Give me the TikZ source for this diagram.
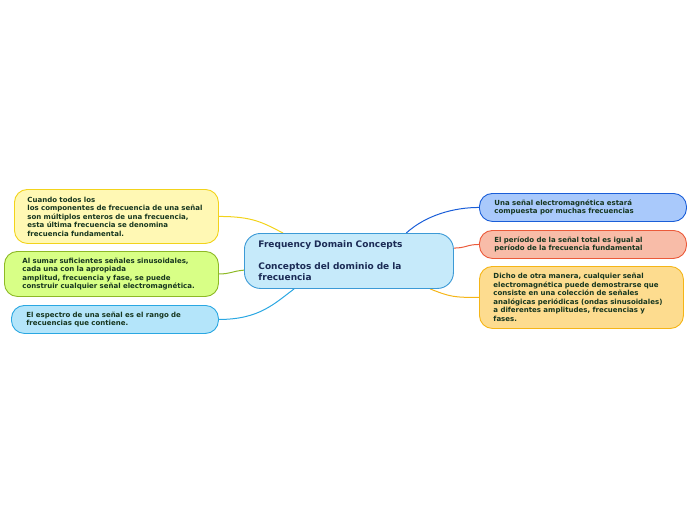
\documentclass[tikz,border=0pt]{standalone}
\usepackage{fontspec}
\setmainfont{DejaVu Sans}
\usetikzlibrary{backgrounds}
\definecolor{Ink}{HTML}{16361F}
\definecolor{Navy}{HTML}{1B2B55}
\definecolor{CoreFill}{HTML}{C6EAFA}
\definecolor{CoreLine}{HTML}{3C9AD6}
\definecolor{SoftYellow}{HTML}{FFF8B4}
\definecolor{Yellow}{HTML}{F2D31B}
\definecolor{SoftLime}{HTML}{D8FF86}
\definecolor{Lime}{HTML}{8DB925}
\definecolor{SoftSky}{HTML}{B4E5FA}
\definecolor{Sky}{HTML}{2AA7E2}
\definecolor{SoftBlue}{HTML}{A9C9FB}
\definecolor{Blue}{HTML}{1A5ED8}
\definecolor{SoftRed}{HTML}{F8BCA8}
\definecolor{Red}{HTML}{EB5A3A}
\definecolor{SoftGold}{HTML}{FDDC8F}
\definecolor{Gold}{HTML}{F5B517}

\begin{document}
\begin{tikzpicture}[
  x=1pt,y=-1pt,
  topic/.style={rounded corners=16pt,draw=CoreLine,fill=CoreFill,line width=0.9pt,anchor=north west,inner xsep=14pt,inner ysep=0pt,text width=181pt,minimum height=55pt,align=left,font=\fontsize{9}{11}\selectfont\bfseries,text=Navy},
  leaf/.style={rounded corners=13pt,line width=0.9pt,anchor=north west,inner ysep=0pt,align=left,font=\fontsize{7}{8.5}\selectfont\bfseries,text=Ink},
  link/.style={line width=1pt}
]
\useasboundingbox (0,0) rectangle (696,520);
\node[topic] (core) at (244,233) {Frequency Domain Concepts\\[11pt]Conceptos del dominio de la\\frecuencia};
% left side
\node[leaf,draw=Yellow,fill=SoftYellow,inner xsep=13pt,text width=178pt,minimum height=54pt] (whole) at (14,189) {Cuando todos los\\los componentes de frecuencia de una señal\\son múltiplos enteros de una frecuencia,\\esta última frecuencia se denomina\\frecuencia fundamental.};
\node[leaf,draw=Lime,fill=SoftLime,inner xsep=18pt,text width=178pt,minimum height=45pt] (sum) at (4,251) {Al sumar suficientes señales sinusoidales,\\cada una con la apropiada\\amplitud, frecuencia y fase, se puede\\construir cualquier señal electromagnética.};
\node[leaf,draw=Sky,fill=SoftSky,inner xsep=15pt,text width=177pt,minimum height=28pt] (spectrum) at (11,305) {El espectro de una señal es el rango de\\frecuencias que contiene.};
% right side
\node[leaf,draw=Blue,fill=SoftBlue,inner xsep=15pt,text width=177pt,minimum height=28pt] (many) at (479,193) {Una señal electromagnética estará\\compuesta por muchas frecuencias};
\node[leaf,draw=Red,fill=SoftRed,inner xsep=15pt,text width=177pt,minimum height=28pt] (period) at (479,230) {El período de la señal total es igual al\\período de la frecuencia fundamental};
\node[leaf,draw=Gold,fill=SoftGold,inner xsep=14pt,text width=176pt,minimum height=62pt] (other) at (479,266) {Dicho de otra manera, cualquier señal\\electromagnética puede demostrarse que\\consiste en una colección de señales\\analógicas periódicas (ondas sinusoidales)\\a diferentes amplitudes, frecuencias y\\fases.};
\begin{scope}[on background layer]
\draw[link,draw=Yellow] (whole.east) .. controls +(35,0) and +(-20,-10) .. (core.157);
\draw[link,draw=Lime] (sum.east) .. controls +(12,0) and +(-12,1) .. (core.185);
\draw[link,draw=Sky] (spectrum.east) .. controls +(40,0) and +(-20,15) .. (core.207.6);
\draw[link,draw=Blue] (core.26) .. controls +(20,-18) and +(-25,0) .. (many.west);
\draw[link,draw=Red] (core.7) .. controls +(12,0) and +(-12,0) .. (period.west);
\draw[link,draw=Gold] (core.341) .. controls +(20,8) and +(-25,0) .. (other.west);
\end{scope}
\end{tikzpicture}
\end{document}
